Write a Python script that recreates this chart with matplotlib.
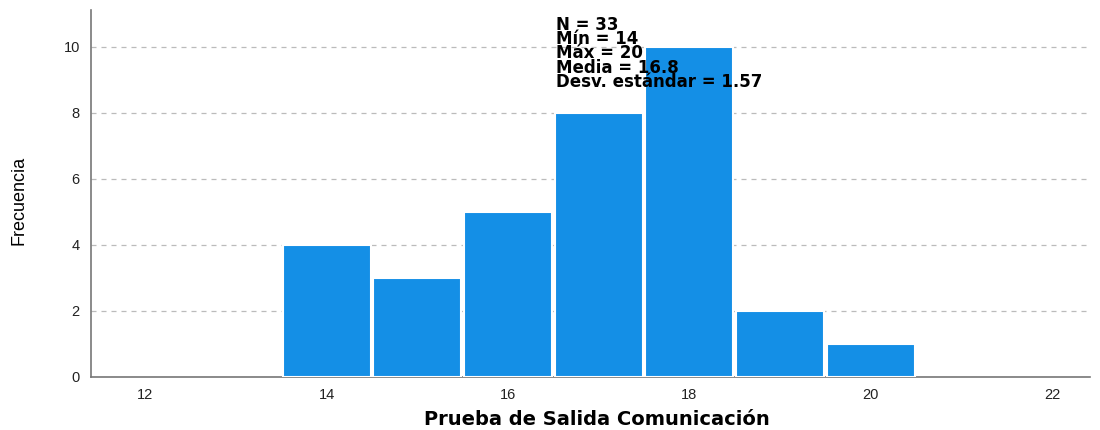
import numpy as np
import matplotlib.pyplot as plt

# histogram data
scores = [14, 15, 16, 17, 18, 19, 20]
counts = [4, 3, 5, 8, 10, 2, 1]
xticks = [12, 14, 16, 18, 20, 22]
yticks = [0, 2, 4, 6, 8, 10]
stats = ['N = 33', 'Mín = 14', 'Máx = 20', 'Media = 16.8', 'Desv. estándar = 1.57']

plt.rcParams['font.family'] = ['Liberation Sans', 'DejaVu Sans']

fig = plt.figure(figsize=(11, 4.3), dpi=100)
ax = fig.add_axes([0.0827, 0.1233, 0.9083, 0.8534])

ax.bar(scores, counts, width=0.97, color='#148FE6', edgecolor='white', linewidth=1.5, zorder=3)

ax.set_xlim(11.4, 22.42)
ax.set_ylim(0, 11.12)
ax.set_xticks(xticks)
ax.set_yticks(yticks)
ax.tick_params(length=0, labelsize=10.5, colors='#222222', pad=8)
ax.yaxis.grid(True, linestyle=(0, (4, 4)), color='#bbbbbb', linewidth=0.9, zorder=0)

for s in ['top', 'right']:
    ax.spines[s].set_visible(False)
for s in ['left', 'bottom']:
    ax.spines[s].set_color('#777777')
    ax.spines[s].set_linewidth(1.2)

ax.set_xlabel('Prueba de Salida Comunicación', fontsize=14, fontweight='bold',
              family=['DejaVu Sans'])
ax.xaxis.set_label_coords(0.506, -0.09)
ax.set_ylabel('Frecuencia', fontsize=13, color='black')
ax.yaxis.set_label_coords(-0.064, 0.48)

# summary box (no frame in the original)
ax.text(16.53, 10.95, '\n'.join(stats), fontsize=12, fontweight='bold', va='top', ha='left',
        linespacing=0.74, family=['DejaVu Sans'], zorder=5)

plt.savefig('out.png', dpi=100)
